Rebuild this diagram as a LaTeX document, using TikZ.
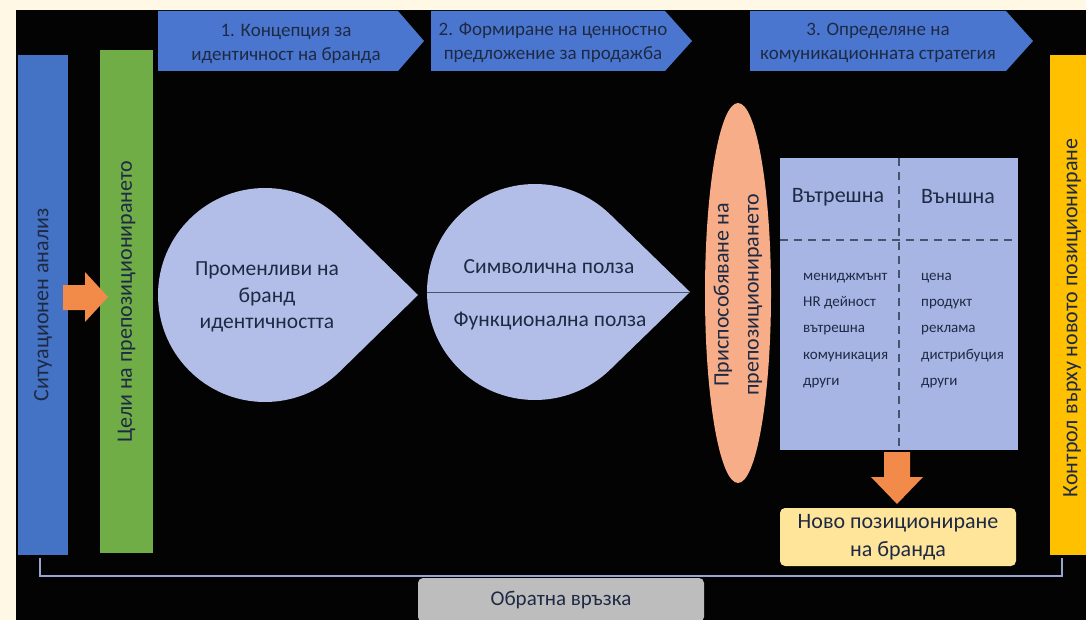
\documentclass[tikz,border=0pt]{standalone}
\usepackage{fontspec}
\setmainfont{Carlito}
\usetikzlibrary{shapes.geometric,calc}
\definecolor{cream}{HTML}{FFF8E4}
\definecolor{bg}{HTML}{030303}
\definecolor{barblue}{HTML}{4472C4}
\definecolor{chevblue}{HTML}{4A76D0}
\definecolor{bargreen}{HTML}{70AD47}
\definecolor{dropcol}{HTML}{B3BEE8}
\definecolor{tblcol}{HTML}{A7B5E4}
\definecolor{salmon}{HTML}{F7AE88}
\definecolor{arroworange}{HTML}{F28A4A}
\definecolor{baryellow}{HTML}{FFC000}
\definecolor{lightyellow}{HTML}{FFE59A}
\definecolor{fbgray}{HTML}{BDBDBD}
\definecolor{fbline}{HTML}{98A6CF}
\definecolor{txtdark}{HTML}{1E2A44}
\definecolor{divline}{HTML}{44546A}
\tikzset{
  txt/.style={text=txtdark, align=center, inner sep=0pt},
  big/.style={font=\fontsize{21.5}{26.5}\selectfont},
  chevtxt/.style={txt, font=\fontsize{19}{24}\selectfont},
  listtxt/.style={txt, align=left, font=\fontsize{15}{26.2}\selectfont, anchor=north west},
  vbar/.style={rotate=90, inner sep=0pt, text=txtdark, font=\fontsize{22}{26}\selectfont},
  hdr/.style={txt, font=\fontsize{22}{26}\selectfont},
}
\begin{document}
\begin{tikzpicture}[x=1pt,y=-1pt]
\fill[cream] (0,0) rectangle (1086,620);
\fill[bg] (16,10) rectangle (1086,620);
\useasboundingbox (0,0) rectangle (1086,620);

% top chevrons
\fill[chevblue] (158,11) -- (398,11) -- (424,41) -- (398,71) -- (158,71) -- cycle;
\node[chevtxt] (c1) at (286,44) {1. Концепция за\\идентичност на бранда};
\fill[chevblue] (431,11) -- (665,11) -- (692,41) -- (665,71) -- (431,71) -- cycle;
\node[chevtxt] (c2) at (553,43) {2. Формиране на ценностно\\предложение за продажба};
\fill[chevblue] (750,11) -- (1006,11) -- (1033,41) -- (1006,71) -- (750,71) -- cycle;
\node[chevtxt] (c3) at (878,43) {3. Определяне на\\комуникационната стратегия};

% side bars
\node[vbar, fill=barblue, minimum width=500pt, minimum height=50pt] (sit) at (43,305) {Ситуационен анализ};
\node[vbar, fill=bargreen, minimum width=503pt, minimum height=53pt] (goal) at (126.5,301.5) {Цели на препозиционирането};
\node[vbar, fill=baryellow, minimum width=500pt, minimum height=38pt] (ctrl) at (1069,305) {};
\node[vbar] (ctrlt) at (1072,318) {Контрол върху новото позициониране};

% orange arrow right
\fill[arroworange] (63,285) -- (85,285) -- (85,272) -- (108,297) -- (85,322) -- (85,310) -- (63,310) -- cycle;

% drop 1
\fill[dropcol] (418,295) -- ($(265,295)+(45.6:107)$) arc[start angle=45.6, end angle=314.4, radius=107] -- cycle;
\node[txt, big] (d1) at (267,297) {Променливи на\\бранд\\идентичността};

% drop 2
\fill[dropcol] (690,292) -- ($(535,292)+(45.8:108)$) arc[start angle=45.8, end angle=314.2, radius=108] -- cycle;
\coordinate (d2l) at (427,292);
\coordinate (d2r) at (690,292);
\draw[divline, line width=1pt] (d2l) -- (d2r);
\node[txt, big] (d2a) at (549,267) {Символична полза};
\node[txt, big] (d2b) at (550,321) {Функционална полза};

% ellipse
\node[ellipse, fill=salmon, minimum width=66pt, minimum height=380pt] (adj) at (738,293) {};
\node[rotate=90, txt, font=\fontsize{22}{30}\selectfont] at (738,295) {Приспособяване на\\препозиционирането};

% table
\node[fill=tblcol, minimum width=238pt, minimum height=292pt, inner sep=0pt] (tbl) at (899,304) {};
\draw[divline, line width=1.2pt, dash pattern=on 8pt off 6pt] (tbl.north) -- (tbl.south);
\draw[divline, line width=1.2pt, dash pattern=on 8pt off 6pt] (780,240) -- (1018,240);
\node[hdr] (hin) at (838,197) {Вътрешна};
\node[hdr] (hout) at (958,197) {Външна};
\node[listtxt] (lin) at (803,273) {мениджмънт\\HR дейност\\вътрешна\\комуникация\\други};
\node[listtxt] (lout) at (921,273) {цена\\продукт\\реклама\\дистрибуция\\други};

% down arrow
\fill[arroworange] (884,452) -- (910,452) -- (910,477) -- (923,477) -- (897,504) -- (871,477) -- (884,477) -- cycle;

% new positioning
\node[fill=lightyellow, rounded corners=5pt, minimum width=236pt, minimum height=58pt, txt, font=\fontsize{22}{28}\selectfont] (newp) at (898,537) {Ново позициониране\\на бранда};

% feedback
\node[fill=fbgray, rounded corners=5pt, minimum width=286pt, minimum height=44pt, txt, font=\fontsize{21}{24}\selectfont] (fb) at (561,600) {Обратна връзка};
\coordinate (fbTL) at (40,558);
\coordinate (fbL) at (40,576);
\coordinate (fbR) at (1062,576);
\coordinate (fbTR) at (1062,558);
\draw[fbline, line width=2.5pt] (fbTL) -- (fbL) -- (fbR) -- (fbTR);
\end{tikzpicture}
\end{document}
